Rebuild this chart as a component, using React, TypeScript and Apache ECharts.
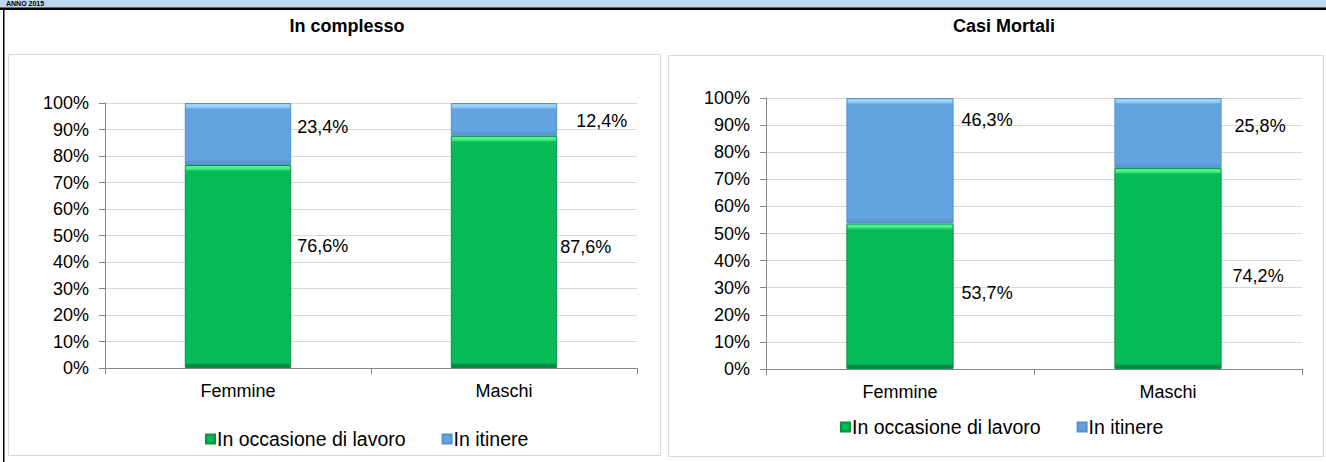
import React, { useEffect, useRef } from "react";
import * as echarts from "echarts";

const categories = ["Femmine", "Maschi"];
const seriesNames = ["In occasione di lavoro", "In itinere"];
const lavoroComplesso = [76.6, 87.6];
const itinereComplesso = [23.4, 12.4];
const lavoroMortali = [53.7, 74.2];
const itinereMortali = [46.3, 25.8];
const chartTitles = ["In complesso", "Casi Mortali"];
const headerText = "ANNO 2015";

// label offsets (style only): [dx, dy] per bar
const offLavoroComplesso = [[1, -21], [-2, -5]];
const offItinereComplesso = [[1, -7], [14, 2]];
const offLavoroMortali = [[3, -3], [6, 8]];
const offItinereMortali = [[3, -41], [8, -7]];

const FONT = "Liberation Sans, Arial, sans-serif";
const GRID_H = [265, 271];

type Pal = { light: string; main: string; dark: string; border: string };
const GREEN: Pal = { light: "#4df08a", main: "#05bb55", dark: "#0a8242", border: "#0a8f45" };
const BLUE: Pal = { light: "#9bd2f7", main: "#63a3df", dark: "#5b97d0", border: "#5590c8" };

function bevel(p: Pal, hPx: number) {
  const f = (px: number) => Math.min(0.45, px / Math.max(hPx, 1));
  return new echarts.graphic.LinearGradient(0, 0, 0, 1, [
    { offset: 0, color: p.light },
    { offset: f(3), color: p.light },
    { offset: f(6), color: p.main },
    { offset: 1 - f(5), color: p.main },
    { offset: 1 - f(2), color: p.dark },
    { offset: 1, color: p.dark },
  ]);
}

const fmt = (v: number) => v.toFixed(1).replace(".", ",") + "%";

function makeSeries(
  name: string,
  values: number[],
  offsets: number[][],
  idx: number,
  pal: Pal,
  stack: string
) {
  return {
    type: "bar",
    name,
    stack,
    xAxisIndex: idx,
    yAxisIndex: idx,
    barWidth: "40%",
    itemStyle: { color: pal.main, borderColor: pal.border, borderWidth: 1 },
    data: values.map((v, i) => ({
      value: v,
      itemStyle: { color: bevel(pal, (v * GRID_H[idx]) / 100) },
      label: { offset: offsets[i] },
    })),
    label: {
      show: true,
      position: "right",
      distance: 5,
      color: "#000",
      fontFamily: FONT,
      fontSize: 18,
      formatter: (p: any) => fmt(p.value),
    },
  };
}

const xAxisCommon = (idx: number) => ({
  type: "category",
  gridIndex: idx,
  data: categories,
  axisLine: { show: true, lineStyle: { color: "#868686", width: 1 } },
  axisTick: { show: true, length: 6, lineStyle: { color: "#868686" } },
  axisLabel: { color: "#000", fontFamily: FONT, fontSize: 18, margin: 14 },
});

const yAxisCommon = (idx: number) => ({
  type: "value",
  gridIndex: idx,
  min: 0,
  max: 100,
  interval: 10,
  axisLine: { show: true, lineStyle: { color: "#868686", width: 1 } },
  axisTick: { show: true, length: 6, lineStyle: { color: "#868686" } },
  axisLabel: {
    color: "#000",
    fontFamily: FONT,
    fontSize: 18,
    margin: 16,
    formatter: "{value}%",
  },
  splitLine: { show: true, lineStyle: { color: "#d9d9d9", width: 1 } },
});

const legendCommon = {
  data: seriesNames,
  icon: "rect",
  itemWidth: 9,
  itemHeight: 9,
  itemGap: 36,
  textStyle: { color: "#000", fontFamily: FONT, fontSize: 19.5, padding: [0, 0, 0, -3] },
};

export default function App() {
  const ref = useRef<HTMLDivElement>(null);
  useEffect(() => {
    if (!ref.current) return;
    const chart = echarts.init(ref.current, undefined, { renderer: "svg" });
    const option: any = {
      animation: false,
      backgroundColor: "#fff",
      graphic: [
        { type: "rect", shape: { x: 0, y: 0, width: 1326, height: 8 }, style: { fill: "#bdd7ee" }, z: 0 },
        {
          type: "text",
          x: 6,
          y: 0,
          style: { text: headerText, font: `bold 7px ${FONT}`, fill: "#000" },
          z: 1,
        },
        { type: "rect", shape: { x: 0, y: 7.5, width: 1326, height: 2.5 }, style: { fill: "#000" }, z: 2 },
        { type: "rect", shape: { x: 3, y: 9, width: 1.5, height: 460 }, style: { fill: "#000" }, z: 2 },
        {
          type: "rect",
          shape: { x: 8.5, y: 54.5, width: 652, height: 401 },
          style: { fill: "none", stroke: "#d9d9d9", lineWidth: 1 },
          z: 0,
        },
        {
          type: "rect",
          shape: { x: 668.5, y: 55.5, width: 655, height: 401 },
          style: { fill: "none", stroke: "#d9d9d9", lineWidth: 1 },
          z: 0,
        },
        {
          type: "text",
          x: 347,
          y: 26,
          style: { text: chartTitles[0], font: `bold 18px ${FONT}`, fill: "#000", align: "center", verticalAlign: "middle" },
        },
        {
          type: "text",
          x: 1004,
          y: 26,
          style: { text: chartTitles[1], font: `bold 18px ${FONT}`, fill: "#000", align: "center", verticalAlign: "middle" },
        },
      ],
      grid: [
        { left: 105, top: 103, width: 532, height: GRID_H[0] },
        { left: 766, top: 98, width: 536, height: GRID_H[1] },
      ],
      xAxis: [xAxisCommon(0), xAxisCommon(1)],
      yAxis: [yAxisCommon(0), yAxisCommon(1)],
      legend: [
        { ...legendCommon, left: 200, top: 424 },
        { ...legendCommon, left: 835, top: 412 },
      ],
      series: [
        makeSeries(seriesNames[0], lavoroComplesso, offLavoroComplesso, 0, GREEN, "a"),
        makeSeries(seriesNames[1], itinereComplesso, offItinereComplesso, 0, BLUE, "a"),
        makeSeries(seriesNames[0], lavoroMortali, offLavoroMortali, 1, GREEN, "b"),
        makeSeries(seriesNames[1], itinereMortali, offItinereMortali, 1, BLUE, "b"),
      ],
    };
    chart.setOption(option);
    return () => chart.dispose();
  }, []);
  return (
    <div
      ref={ref}
      style={{ position: "absolute", left: 0, top: 0, width: 1326, height: 462 }}
    />
  );
}
